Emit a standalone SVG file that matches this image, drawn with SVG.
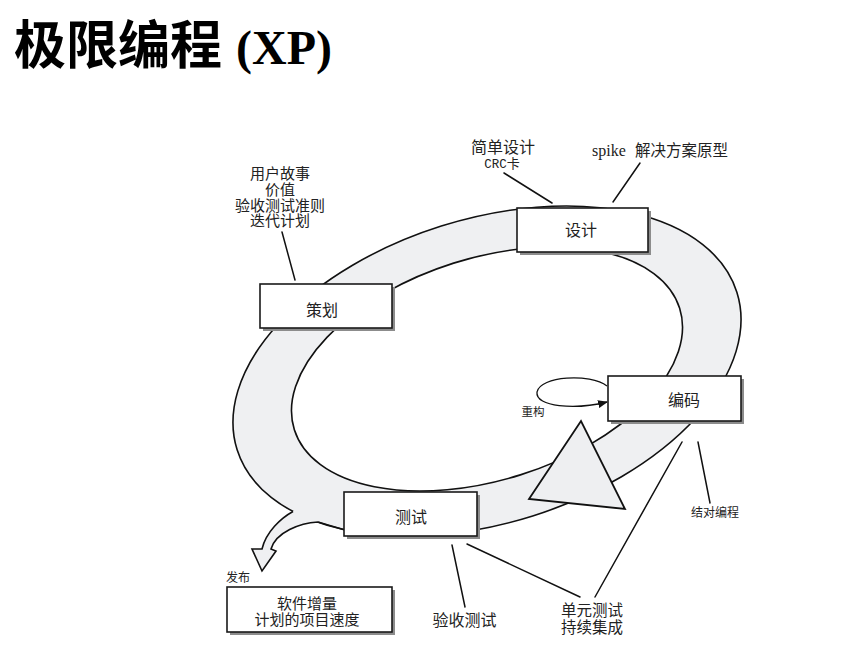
<svg xmlns="http://www.w3.org/2000/svg" width="853" height="662" viewBox="0 0 853 662">
<style>
.t{font-family:"Noto Sans CJK SC","Liberation Sans",sans-serif;fill:#222;}
.box{fill:#fff;stroke:#1a1a1a;stroke-width:1.6;}
.sh{fill:#8c8c8c;}
.band{fill:#eff0f2;stroke:#111;stroke-width:1.6;}
.ln{stroke:#111;stroke-width:1.5;fill:none;stroke-linecap:round;}
</style>
<defs>
<marker id="ah" viewBox="0 0 10 8" refX="9" refY="4" markerWidth="10" markerHeight="8" markerUnits="userSpaceOnUse" orient="auto">
<path d="M0,0 L10,4 L0,8 Z" fill="#111"/>
</marker>
</defs>
<rect width="853" height="662" fill="#fff"/>
<text x="14" y="64" style="font-family:'Liberation Serif','Noto Sans CJK SC',serif;font-weight:bold;fill:#000;"><tspan font-size="52">极限编程</tspan><tspan x="236" font-size="48">(XP)</tspan></text>

<g id="cycle">
<ellipse cx="487" cy="371" rx="262" ry="152" transform="rotate(-17.5 487 371)" class="band"/>
<ellipse cx="487" cy="369" rx="202" ry="111" transform="rotate(-17.5 487 369)" fill="#fff" stroke="#111" stroke-width="1.6"/>
<path d="M293,511.5 C281,518 266,532 262,549 L252,549 L262,571 L276,551 L271,549 C276,532 300,523 318,522 L332,510 L300,502 Z" fill="#eff0f2"/>
<path d="M293,511.5 C281,518 266,532 262,549 L252,549 L262,571 L276,551 L271,549 C276,532 300,523 318,522 L345,530" fill="none" stroke="#111" stroke-width="1.6" stroke-linejoin="miter"/>
<path d="M529,499 L581,421 L625,509 Z" fill="#eeeff1" stroke="#111" stroke-width="1.8" stroke-linejoin="miter"/>
</g>

<g id="connectors">
<path class="ln" d="M282,232 L295,280"/>
<path class="ln" d="M504,173 L552,203"/>
<path class="ln" d="M640,163 L613,202"/>
<path class="ln" d="M698,442 L710,503"/>
<path class="ln" d="M682,442 L595,597"/>
<path class="ln" d="M467,544 L580,597"/>
<path class="ln" d="M452,545 L465,607"/>
<path d="M607,386 C590,373 540,376 537,392 C535,407 575,410 607,402" fill="none" stroke="#111" stroke-width="1.3" marker-end="url(#ah)"/>
</g>

<g id="node-plan">
<rect class="sh" x="263" y="287" width="132" height="44"/>
<rect class="box" x="260" y="284" width="132" height="44"/>
<text class="t" x="322" y="316" font-size="16" text-anchor="middle">策划</text>
</g>
<g id="node-design">
<rect class="sh" x="520" y="211" width="131" height="44"/>
<rect class="box" x="517" y="208" width="131" height="44"/>
<text class="t" x="581" y="236" font-size="16" text-anchor="middle">设计</text>
</g>
<g id="node-code">
<rect class="sh" x="611" y="379" width="133" height="45"/>
<rect class="box" x="608" y="376" width="133" height="45"/>
<text class="t" x="684" y="406" font-size="16" text-anchor="middle">编码</text>
</g>
<g id="node-test">
<rect class="sh" x="347" y="495" width="133" height="44"/>
<rect class="box" x="344" y="492" width="133" height="44"/>
<text class="t" x="411" y="523" font-size="16" text-anchor="middle">测试</text>
</g>
<g id="node-release">
<rect class="sh" x="230" y="590" width="165" height="45"/>
<rect class="box" x="227" y="587" width="165" height="45"/>
<text class="t" x="307" y="608.5" font-size="15" text-anchor="middle">软件增量</text>
<text class="t" x="307" y="624.5" font-size="15" text-anchor="middle">计划的项目速度</text>
</g>

<g id="labels">
<text class="t" font-size="15" text-anchor="middle"><tspan x="280" y="178.5">用户故事</tspan><tspan x="280" y="194.5">价值</tspan><tspan x="280" y="210.5">验收测试准则</tspan><tspan x="280" y="226">迭代计划</tspan></text>
<text class="t" x="503" y="153" font-size="16" text-anchor="middle">简单设计</text>
<text x="502" y="167.5" text-anchor="middle" style="fill:#222;"><tspan font-family="Liberation Mono, monospace" font-size="12.5">CRC</tspan><tspan font-family="Noto Sans CJK SC, sans-serif" font-size="13">卡</tspan></text>
<text x="592" y="155.5" font-family="Liberation Serif, serif" font-size="16" fill="#222">spike</text>
<text class="t" x="635" y="155.5" font-size="15.5">解决方案原型</text>
<text class="t" x="533" y="416" font-size="11.5" text-anchor="middle">重构</text>
<text class="t" x="715" y="516.5" font-size="12" text-anchor="middle">结对编程</text>
<text class="t" x="238" y="581.5" font-size="12" text-anchor="middle">发布</text>
<text class="t" x="464.5" y="626" font-size="16" text-anchor="middle">验收测试</text>
<text class="t" font-size="15.5" text-anchor="middle"><tspan x="592" y="616">单元测试</tspan><tspan x="592" y="633">持续集成</tspan></text>
</g>
</svg>
